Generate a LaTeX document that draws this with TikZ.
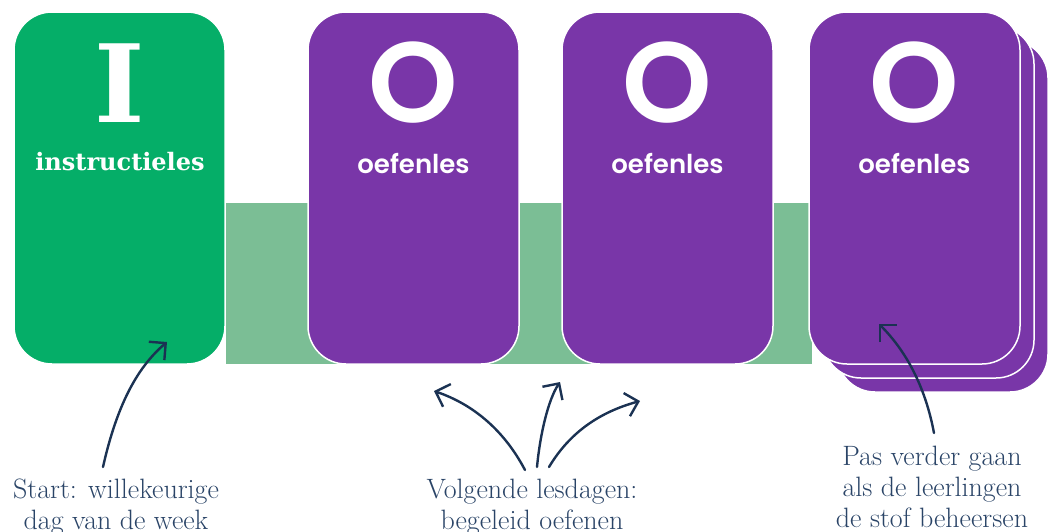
\documentclass[tikz,border=0pt]{standalone}
\usepackage{fontspec}
\usetikzlibrary{arrows.meta}
\newfontfamily\slabfont{DejaVu Serif}
\newfontfamily\geofont{Poppins}
\newfontfamily\geosemi{Poppins}[UprightFont=*-SemiBold]
\definecolor{cgreen}{HTML}{05AE68}
\definecolor{cband}{HTML}{7BBE95}
\definecolor{cpurple}{HTML}{7936A8}
\definecolor{cnavy}{HTML}{1B3253}
\definecolor{ctext}{HTML}{2A4467}
\tikzset{
  card/.style={rounded corners=38pt, minimum width=211pt, minimum height=352pt, inner sep=0pt, draw=white, line width=1.5pt},
  bigI/.style={text=white, anchor=base, inner sep=0pt, font=\slabfont\bfseries\fontsize{108}{108}\selectfont},
  bigO/.style={text=white, anchor=base, inner sep=0pt, font=\geosemi\fontsize{114}{114}\selectfont},
  slablabel/.style={text=white, anchor=base, inner sep=0pt, font=\slabfont\bfseries\fontsize{24}{24}\selectfont},
  geolabel/.style={text=white, anchor=base, inner sep=0pt, font=\geosemi\fontsize{26}{26}\selectfont},
  note/.style={text=ctext, align=center, anchor=base, inner sep=0pt, font=\fontsize{28}{31}\selectfont},
  arr/.style={draw=cnavy, line width=2.4pt, line cap=round, -{Straight Barb[length=12pt,width=24pt,line width=2.4pt]}}
}
\begin{document}
\begin{tikzpicture}[x=1pt,y=-1pt]
\useasboundingbox (0,0) rectangle (1057,531);
% band
\fill[cband] (226,203) rectangle (812,364);
% back stack
\node[card, fill=cpurple] (back2) at (942.5,216) {};
\node[card, fill=cpurple] (back1) at (928.5,202) {};
% front cards
\node[card, fill=cgreen] (c0) at (119.5,188) {};
\node[card, fill=cpurple] (c1) at (413.5,188) {};
\node[card, fill=cpurple] (c2) at (667.5,188) {};
\node[card, fill=cpurple] (c3) at (914.5,188) {};
% letters
\node[bigI] (l0) at (120,122) {I};
\node[bigO] (l1) at (413.5,122) {O};
\node[bigO] (l2) at (667.5,122) {O};
\node[bigO] (l3) at (914.5,122) {O};
% labels
\node[slablabel] (t0) at (120,170) {instructieles};
\node[geolabel] (t1) at (413.5,173) {oefenles};
\node[geolabel] (t2) at (667.5,173) {oefenles};
\node[geolabel] (t3) at (914.5,173) {oefenles};
% notes
\node[note] (n0) at (116,529) {Start: willekeurige\\dag van de week};
\node[note] (n1) at (532,529) {Volgende lesdagen:\\begeleid oefenen};
\node[note] (n2) at (932,527) {Pas verder gaan\\als de leerlingen\\de stof beheersen};
% arrow ends
\coordinate (a0s) at (103,467);
\coordinate (a0e) at (167,342);
\coordinate (a1s) at (525,470);
\coordinate (a1e) at (434,391);
\coordinate (a2s) at (537,467);
\coordinate (a2e) at (560,382);
\coordinate (a3s) at (549,467);
\coordinate (a3e) at (640,401);
\coordinate (a4s) at (934,433);
\coordinate (a4e) at (879,324);
\draw[arr] (a0s) .. controls (118,400) and (140,365) .. (a0e);
\draw[arr] (a1s) .. controls (505,432) and (475,405) .. (a1e);
\draw[arr] (a2s) .. controls (540,435) and (548,400) .. (a2e);
\draw[arr] (a3s) .. controls (570,432) and (600,412) .. (a3e);
\draw[arr] (a4s) .. controls (925,385) and (905,350) .. (a4e);
\end{tikzpicture}
\end{document}
